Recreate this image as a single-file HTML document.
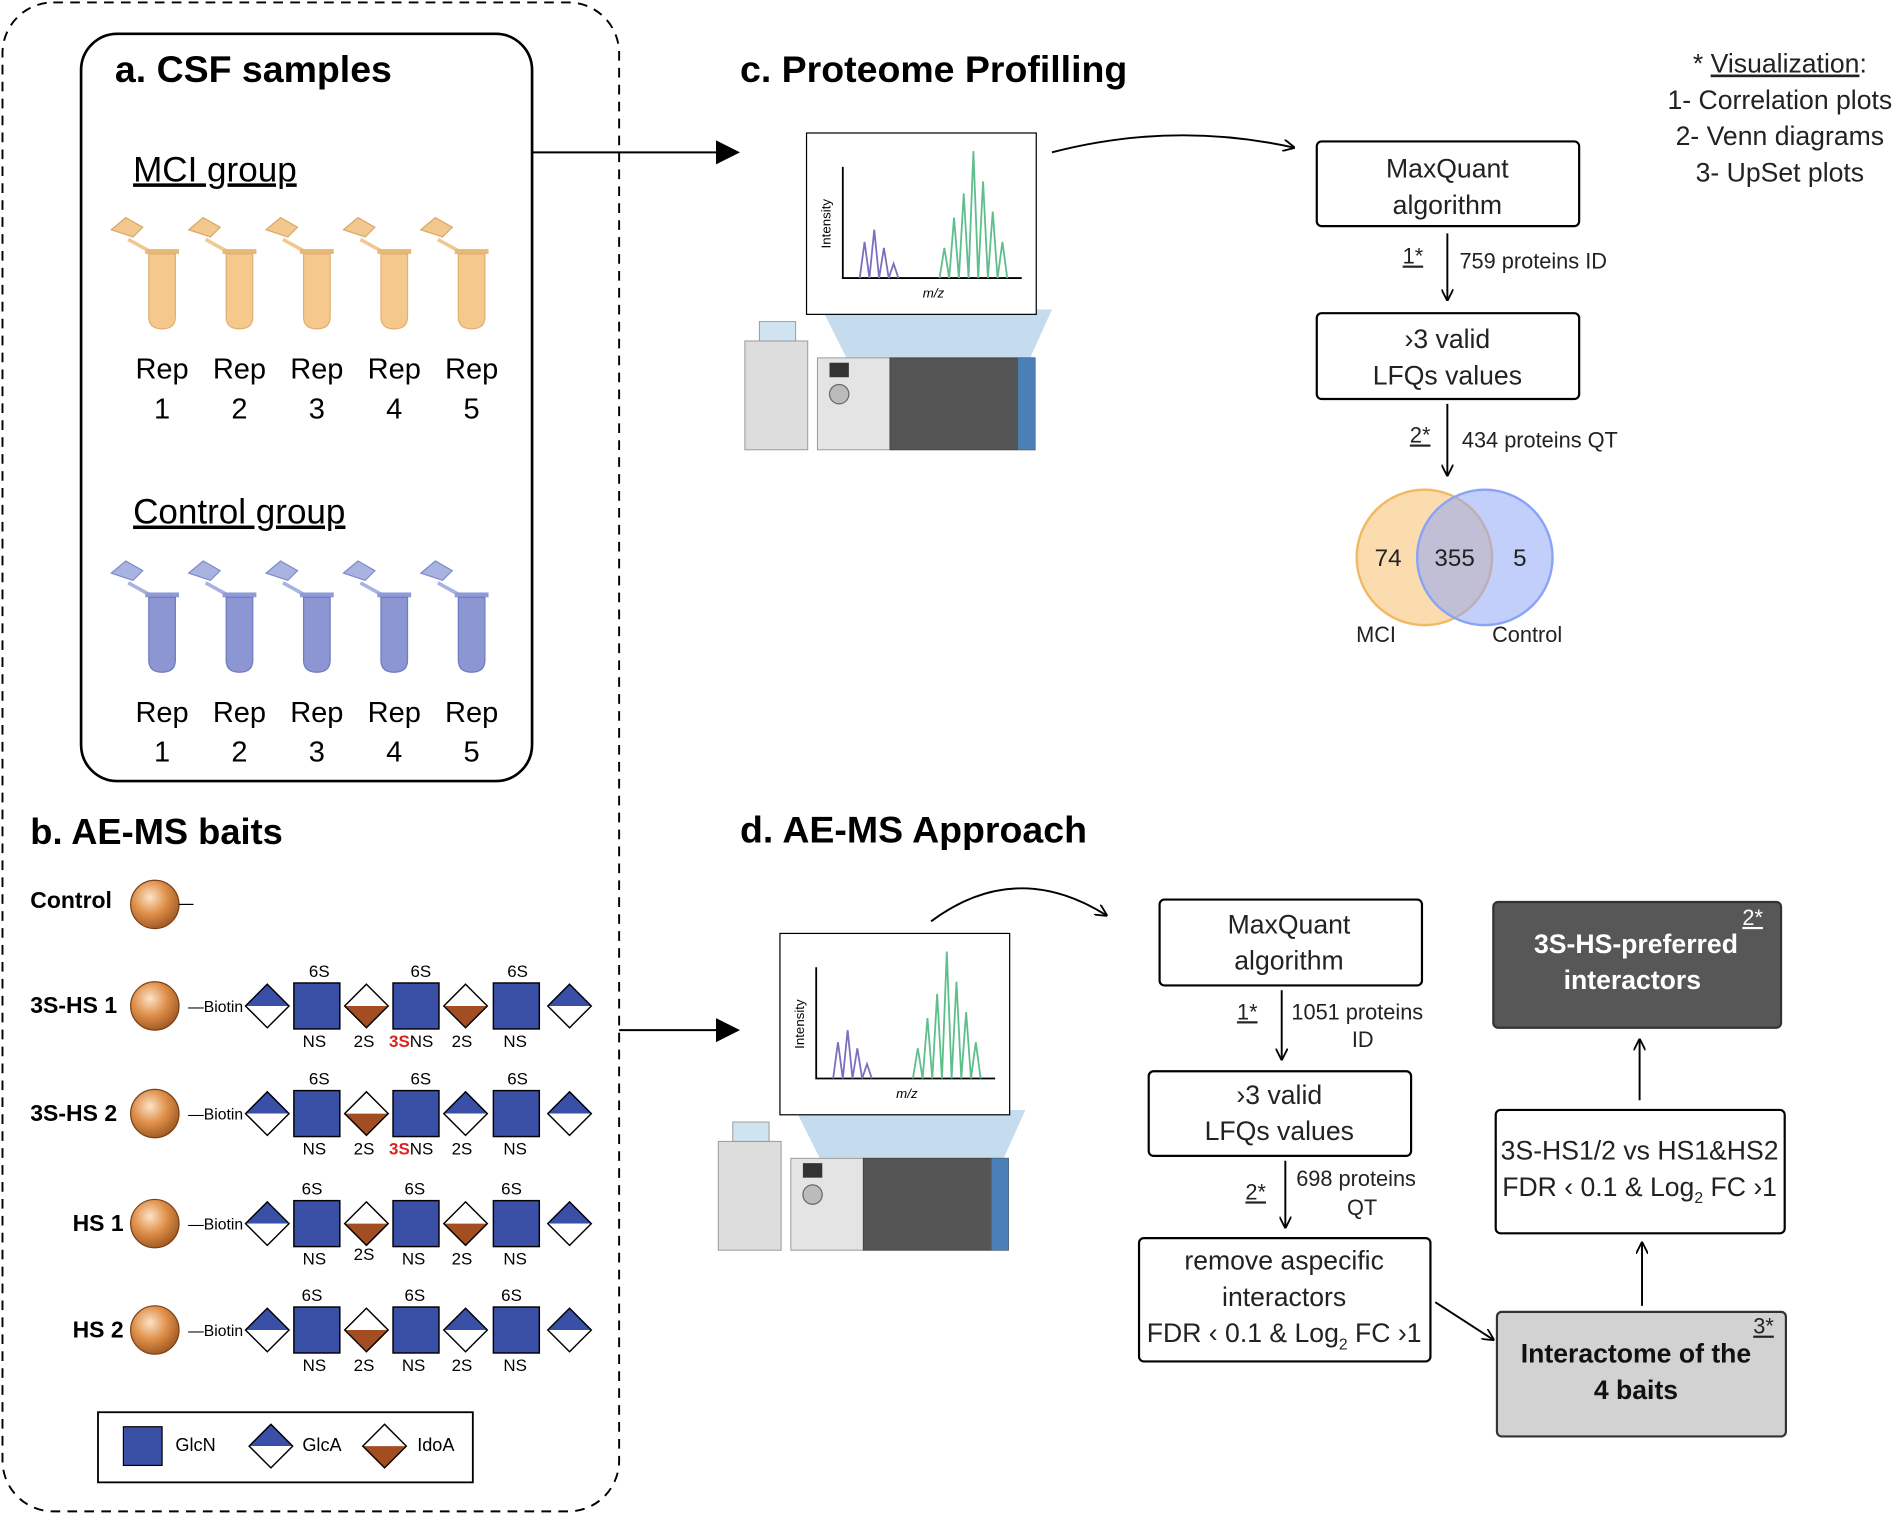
<!DOCTYPE html>
<html><head><meta charset="utf-8"><style>html,body{margin:0;padding:0;background:#fff}svg{display:block}</style></head>
<body>
<svg xmlns="http://www.w3.org/2000/svg" width="1896" height="1515" viewBox="0 0 1568 1253" font-family="'Liberation Sans', sans-serif">
<defs>
<radialGradient id="bead" cx="0.4" cy="0.35" r="0.7"><stop offset="0" stop-color="#fbe3c8"/><stop offset="0.5" stop-color="#e0904a"/><stop offset="1" stop-color="#9a5520"/></radialGradient>
<marker id="ah" markerWidth="10" markerHeight="10" refX="9" refY="5" orient="auto" markerUnits="userSpaceOnUse"><path d="M0,0 L10,5 L0,10" fill="none" stroke="#000" stroke-width="1.5"/></marker>
<marker id="big" markerWidth="20" markerHeight="20" refX="18" refY="10" orient="auto" markerUnits="userSpaceOnUse"><path d="M0,0 L20,10 L0,20 Z" fill="#000"/></marker>
<g id="tubeT"><path d="M-42,-10 l12,-10 l14,8 l-8,8z" fill="#f3c88e" stroke="#d9a868"/><path d="M-28,-2 l18,10 h6" stroke="#f0c890" stroke-width="3" fill="none"/><rect x="-14" y="6" width="28" height="4" fill="#e8b878"/><path d="M-11,10 v52 q0,10 11,10 q11,0 11,-10 v-52z" fill="#f5c98e" stroke="#e0b070"/></g>
<g id="tubeB"><path d="M-42,-10 l12,-10 l14,8 l-8,8z" fill="#a9b3e2" stroke="#7f8bc8"/><path d="M-28,-2 l18,10 h6" stroke="#a9b3e2" stroke-width="3" fill="none"/><rect x="-14" y="6" width="28" height="4" fill="#8f9ad6"/><path d="M-11,10 v52 q0,10 11,10 q11,0 11,-10 v-52z" fill="#8b96d2" stroke="#6f7cc0"/></g>
<g id="sq"><rect x="-19" y="-19" width="38" height="38" fill="#3a50a6" stroke="#000" stroke-width="1.2"/></g>
<g id="gl"><path d="M0,-18 L18,0 L-18,0Z" fill="#3a50a6"/><path d="M0,18 L18,0 L-18,0Z" fill="#fff"/><path d="M0,-18 L18,0 L0,18 L-18,0Z" fill="none" stroke="#000" stroke-width="1.2"/></g>
<g id="id"><path d="M0,-18 L18,0 L-18,0Z" fill="#fff"/><path d="M0,18 L18,0 L-18,0Z" fill="#a34e22"/><path d="M0,-18 L18,0 L0,18 L-18,0Z" fill="none" stroke="#000" stroke-width="1.2"/></g>
<g id="chart"><rect x="0" y="0" width="190" height="150" fill="#fff" stroke="#000"/><path d="M30,28 V120 H178" stroke="#000" fill="none" stroke-width="1.5"/><path d="M44,120 l4,-30 l4,30 l4,-40 l4,40 l4,-25 l4,25 l4,-12 l4,12" stroke="#7c6fc0" fill="none" stroke-width="1.5"/><path d="M110,120 l4,-25 l4,25 l4,-50 l4,50 l4,-70 l4,70 l4,-105 l4,105 l4,-80 l4,80 l4,-55 l4,55 l4,-30 l4,30" stroke="#5fbf8c" fill="none" stroke-width="1.5"/><text x="20" y="75" font-size="11" transform="rotate(-90 20 75)" text-anchor="middle">Intensity</text><text x="105" y="136" font-size="11" font-style="italic" text-anchor="middle">m/z</text></g>
<g id="inst"><path d="M68,0 L88,40 L240,40 L258,0Z" fill="#b7d3ea" opacity="0.8"/><rect x="4" y="26" width="52" height="90" fill="#ddd" stroke="#999" stroke-width="0.8"/><rect x="16" y="10" width="30" height="16" fill="#cfe3f0" stroke="#999" stroke-width="0.8"/><rect x="64" y="40" width="60" height="76" fill="#e4e4e4" stroke="#999" stroke-width="0.8"/><rect x="124" y="40" width="120" height="76" fill="#555" stroke="#444" stroke-width="0.8"/><rect x="230" y="40" width="14" height="76" fill="#4a7fb8"/><circle cx="82" cy="70" r="8" fill="#bbb" stroke="#666"/><rect x="74" y="44" width="16" height="12" fill="#333"/></g>
</defs>
<rect x="2" y="2" width="510" height="1248" rx="42" fill="none" stroke="#000" stroke-width="1.6" stroke-dasharray="8,6"/>
<rect x="67" y="28" width="373" height="618" rx="30" fill="none" stroke="#000" stroke-width="2.2"/>
<text x="95" y="68" font-size="31" font-weight="bold">a. CSF samples</text>
<text x="110" y="150" font-size="29" text-decoration="underline">MCI group</text>
<g><use href="#tubeT" x="134" y="200"/><use href="#tubeT" x="198" y="200"/><use href="#tubeT" x="262" y="200"/><use href="#tubeT" x="326" y="200"/><use href="#tubeT" x="390" y="200"/></g>
<g font-size="24" text-anchor="middle"><text x="134" y="313">Rep</text><text x="198" y="313">Rep</text><text x="262" y="313">Rep</text><text x="326" y="313">Rep</text><text x="390" y="313">Rep</text>
<text x="134" y="346">1</text><text x="198" y="346">2</text><text x="262" y="346">3</text><text x="326" y="346">4</text><text x="390" y="346">5</text></g>
<text x="110" y="433" font-size="29" text-decoration="underline">Control group</text>
<g><use href="#tubeB" x="134" y="484"/><use href="#tubeB" x="198" y="484"/><use href="#tubeB" x="262" y="484"/><use href="#tubeB" x="326" y="484"/><use href="#tubeB" x="390" y="484"/></g>
<g font-size="24" text-anchor="middle"><text x="134" y="597">Rep</text><text x="198" y="597">Rep</text><text x="262" y="597">Rep</text><text x="326" y="597">Rep</text><text x="390" y="597">Rep</text>
<text x="134" y="630">1</text><text x="198" y="630">2</text><text x="262" y="630">3</text><text x="326" y="630">4</text><text x="390" y="630">5</text></g>
<text x="25" y="698" font-size="30" font-weight="bold">b. AE-MS baits</text>
<text x="25" y="751" font-size="19" font-weight="bold">Control</text>
<circle cx="128" cy="748" r="20" fill="url(#bead)" stroke="#7a4015"/><line x1="148" y1="748" x2="160" y2="748" stroke="#000"/>
<g font-size="14" text-anchor="middle">
<g transform="translate(0,832)"><text x="25" y="6" font-size="19" font-weight="bold" text-anchor="start">3S-HS 1</text><circle cx="128" cy="0" r="20" fill="url(#bead)" stroke="#7a4015"/><text x="201" y="5" font-size="13" text-anchor="end">—Biotin</text>
<use href="#gl" x="221"/><use href="#sq" x="262"/><use href="#id" x="303"/><use href="#sq" x="344"/><use href="#id" x="385"/><use href="#sq" x="427"/><use href="#gl" x="471"/>
<text x="264" y="-24">6S</text><text x="348" y="-24">6S</text><text x="428" y="-24">6S</text><text x="260" y="34">NS</text><text x="301" y="34">2S</text><text x="340" y="34"><tspan fill="#e0201c" font-weight="bold">3S</tspan>NS</text><text x="382" y="34">2S</text><text x="426" y="34">NS</text></g>
<g transform="translate(0,921)"><text x="25" y="6" font-size="19" font-weight="bold" text-anchor="start">3S-HS 2</text><circle cx="128" cy="0" r="20" fill="url(#bead)" stroke="#7a4015"/><text x="201" y="5" font-size="13" text-anchor="end">—Biotin</text>
<use href="#gl" x="221"/><use href="#sq" x="262"/><use href="#id" x="303"/><use href="#sq" x="344"/><use href="#gl" x="385"/><use href="#sq" x="427"/><use href="#gl" x="471"/>
<text x="264" y="-24">6S</text><text x="348" y="-24">6S</text><text x="428" y="-24">6S</text><text x="260" y="34">NS</text><text x="301" y="34">2S</text><text x="340" y="34"><tspan fill="#e0201c" font-weight="bold">3S</tspan>NS</text><text x="382" y="34">2S</text><text x="426" y="34">NS</text></g>
<g transform="translate(0,1012)"><text x="60" y="6" font-size="19" font-weight="bold" text-anchor="start">HS 1</text><circle cx="128" cy="0" r="20" fill="url(#bead)" stroke="#7a4015"/><text x="201" y="5" font-size="13" text-anchor="end">—Biotin</text>
<use href="#gl" x="221"/><use href="#sq" x="262"/><use href="#id" x="303"/><use href="#sq" x="344"/><use href="#id" x="385"/><use href="#sq" x="427"/><use href="#gl" x="471"/>
<text x="258" y="-24">6S</text><text x="343" y="-24">6S</text><text x="423" y="-24">6S</text><text x="260" y="34">NS</text><text x="301" y="30">2S</text><text x="342" y="34">NS</text><text x="382" y="34">2S</text><text x="426" y="34">NS</text></g>
<g transform="translate(0,1100)"><text x="60" y="6" font-size="19" font-weight="bold" text-anchor="start">HS 2</text><circle cx="128" cy="0" r="20" fill="url(#bead)" stroke="#7a4015"/><text x="201" y="5" font-size="13" text-anchor="end">—Biotin</text>
<use href="#gl" x="221"/><use href="#sq" x="262"/><use href="#id" x="303"/><use href="#sq" x="344"/><use href="#gl" x="385"/><use href="#sq" x="427"/><use href="#gl" x="471"/>
<text x="258" y="-24">6S</text><text x="343" y="-24">6S</text><text x="423" y="-24">6S</text><text x="260" y="34">NS</text><text x="301" y="34">2S</text><text x="342" y="34">NS</text><text x="382" y="34">2S</text><text x="426" y="34">NS</text></g>
</g>
<rect x="81" y="1168" width="310" height="58" fill="#fff" stroke="#000" stroke-width="1.5"/>
<rect x="102" y="1180" width="32" height="32" fill="#3a50a6" stroke="#000"/><text x="145" y="1200" font-size="15">GlcN</text>
<use href="#gl" x="224" y="1196"/><text x="250" y="1200" font-size="15">GlcA</text>
<use href="#id" x="318" y="1196"/><text x="345" y="1200" font-size="15">IdoA</text>
<line x1="440" y1="126" x2="610" y2="126" stroke="#000" stroke-width="1.6" marker-end="url(#big)"/>
<line x1="512" y1="852" x2="610" y2="852" stroke="#000" stroke-width="1.6" marker-end="url(#big)"/>
<text x="612" y="68" font-size="31" font-weight="bold">c. Proteome Profilling</text>
<use href="#inst" x="612" y="256"/>
<use href="#chart" x="667" y="110"/>
<path d="M870,126 Q970,100 1070,122" fill="none" stroke="#000" stroke-width="1.6" marker-end="url(#ah)"/>
<g fill="#fff" stroke="#000" stroke-width="1.8"><rect x="1089" y="117" width="217" height="70" rx="4"/><rect x="1089" y="259" width="217" height="71" rx="4"/></g>
<g font-size="22" text-anchor="middle" fill="#222"><text x="1197" y="147">MaxQuant</text><text x="1197" y="177">algorithm</text><text x="1197" y="288">›3 valid</text><text x="1197" y="318">LFQs values</text></g>
<line x1="1197" y1="193" x2="1197" y2="248" stroke="#000" stroke-width="1.6" marker-end="url(#ah)"/>
<line x1="1197" y1="334" x2="1197" y2="393" stroke="#000" stroke-width="1.6" marker-end="url(#ah)"/>
<g font-size="18" fill="#222"><text x="1160" y="218" text-decoration="underline">1*</text><text x="1207" y="222">759 proteins ID</text><text x="1166" y="366" text-decoration="underline">2*</text><text x="1209" y="370">434 proteins QT</text></g>
<circle cx="1178" cy="461" r="56" fill="#f6c57a" fill-opacity="0.6" stroke="#f3b862" stroke-width="2"/>
<circle cx="1228" cy="461" r="56" fill="#8fa8f5" fill-opacity="0.55" stroke="#8aa4f5" stroke-width="2"/>
<g font-size="20" text-anchor="middle" fill="#222"><text x="1148" y="468">74</text><text x="1203" y="468">355</text><text x="1257" y="468">5</text><text font-size="18" x="1138" y="531">MCI</text><text font-size="18" x="1263" y="531">Control</text></g>
<g font-size="22" text-anchor="middle" fill="#222"><text x="1472" y="60">* <tspan text-decoration="underline">Visualization</tspan>:</text><text x="1472" y="90">1- Correlation plots</text><text x="1472" y="120">2- Venn diagrams</text><text x="1472" y="150">3- UpSet plots</text></g>
<text x="612" y="697" font-size="31" font-weight="bold">d. AE-MS Approach</text>
<use href="#inst" x="590" y="918"/>
<use href="#chart" x="645" y="772"/>
<path d="M770,762 Q840,710 915,757" fill="none" stroke="#000" stroke-width="1.6" marker-end="url(#ah)"/>
<g fill="#fff" stroke="#000" stroke-width="1.8"><rect x="959" y="744" width="217" height="71" rx="4"/><rect x="950" y="886" width="217" height="70" rx="4"/><rect x="942" y="1024" width="241" height="102" rx="4"/><rect x="1237" y="918" width="239" height="102" rx="4"/></g>
<rect x="1238" y="1085" width="239" height="103" rx="4" fill="#d2d2d2" stroke="#333" stroke-width="1.8"/>
<rect x="1235" y="746" width="238" height="104" rx="4" fill="#575757" stroke="#333" stroke-width="1.8"/>
<g font-size="22" text-anchor="middle" fill="#222"><text x="1066" y="772">MaxQuant</text><text x="1066" y="802">algorithm</text><text x="1058" y="913">›3 valid</text><text x="1058" y="943">LFQs values</text>
<text x="1062" y="1050">remove aspecific</text><text x="1062" y="1080">interactors</text><text x="1062" y="1110">FDR ‹ 0.1 &amp; Log<tspan font-size="13" dy="6">2</tspan><tspan dy="-6"> FC ›1</tspan></text>
<text x="1356" y="959">3S-HS1/2 vs HS1&amp;HS2</text><text x="1356" y="989">FDR ‹ 0.1 &amp; Log<tspan font-size="13" dy="6">2</tspan><tspan dy="-6"> FC ›1</tspan></text></g>
<g font-size="22" font-weight="bold" text-anchor="middle"><text x="1353" y="1127" fill="#111">Interactome of the</text><text x="1353" y="1157" fill="#111">4 baits</text><text x="1353" y="788" fill="#fff">3S-HS-preferred</text><text x="1350" y="818" fill="#fff">interactors</text></g>
<text x="1450" y="1103" font-size="18" text-decoration="underline" fill="#222">3*</text>
<text x="1441" y="765" font-size="18" text-decoration="underline" fill="#fff">2*</text>
<line x1="1060" y1="819" x2="1060" y2="876" stroke="#000" stroke-width="1.6" marker-end="url(#ah)"/>
<line x1="1063" y1="960" x2="1063" y2="1015" stroke="#000" stroke-width="1.6" marker-end="url(#ah)"/>
<line x1="1187" y1="1077" x2="1235" y2="1108" stroke="#000" stroke-width="1.6" marker-end="url(#ah)"/>
<line x1="1358" y1="1080" x2="1358" y2="1028" stroke="#000" stroke-width="1.6" marker-end="url(#ah)"/>
<line x1="1356" y1="910" x2="1356" y2="860" stroke="#000" stroke-width="1.6" marker-end="url(#ah)"/>
<g font-size="18" fill="#222"><text x="1023" y="843" text-decoration="underline">1*</text><text x="1068" y="843">1051 proteins</text><text x="1118" y="866">ID</text><text x="1030" y="992" text-decoration="underline">2*</text><text x="1072" y="981">698 proteins</text><text x="1114" y="1005">QT</text></g>
</svg>
</body></html>
